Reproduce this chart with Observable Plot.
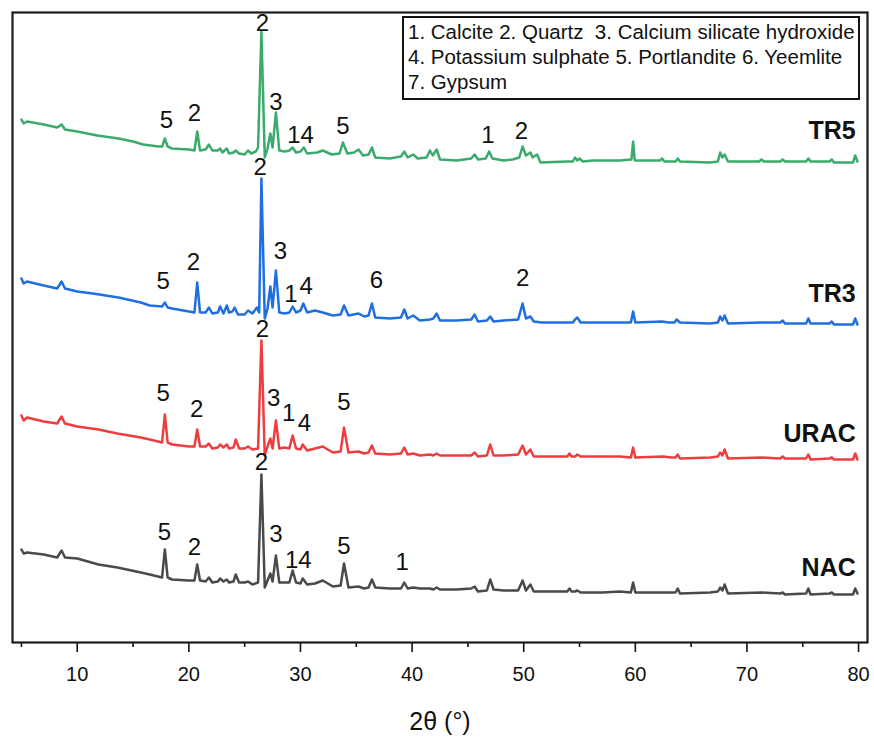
<!DOCTYPE html>
<html>
<head>
<meta charset="utf-8">
<script src="https://cdn.jsdelivr.net/npm/d3@7"></script>
<script src="https://cdn.jsdelivr.net/npm/@observablehq/plot@0.6"></script>
<style>
  html, body { margin: 0; padding: 0; background: #fff; }
  #wrap { position: relative; width: 874px; height: 738px; font-family: Arial, "Liberation Sans", sans-serif; }
  #legend { position: absolute; left: 402px; top: 16px; width: 458px; height: 84px; border: 2.5px solid #111;
            font-size: 20.5px; line-height: 25px; color: #111; padding: 1px 0 0 4px; box-sizing: border-box; background: #fff; white-space: nowrap; }
</style>
</head>
<body>
<div id="wrap">
  <div id="chart"></div>
  <div id="legend"></div>
</div>
<script>
// ---- data (2θ in degrees, intensity in arbitrary units, stacked as drawn) ----
const seriesNames = ["TR5", "TR3", "URAC", "NAC"];
const seriesColors = ["#3aab6c", "#1f6fe0", "#ef3d3f", "#4a4a4a"];

const tr5 = [[5.0,523],[5.2,519],[5.5,521],[7.0,518],[8.2,515],[8.6,518],[8.9,513],[10.0,511],[11.8,507],[13.7,504],[15.0,501],[15.9,498],[17.3,496],[17.6,496],[17.85,504],[18.1,496],[18.5,494],[20.0,493],[20.5,492],[20.75,511],[21.0,492],[21.5,493],[21.8,498],[22.1,492],[22.6,492],[22.8,494],[23.0,490],[23.4,494],[23.6,489],[24.0,490],[24.2,492],[24.5,489],[25.0,488],[25.3,492],[25.6,489],[26.0,491],[26.2,495],[26.5,611],[26.8,485],[27.05,494],[27.3,509],[27.5,495],[27.8,530],[28.1,492],[28.6,491],[29.0,492],[29.3,495],[29.6,490],[30.0,491],[30.3,495],[30.6,489],[31.5,490],[32.0,492],[32.8,488],[33.5,489],[33.8,500],[34.2,489],[34.8,490],[35.2,493],[35.6,487],[36.1,488],[36.4,495],[36.7,485],[38.0,484],[39.0,486],[39.3,491],[39.6,485],[40.1,488],[40.5,484],[41.3,485],[41.6,492],[41.85,487],[42.2,493],[42.5,483],[44.0,482],[45.3,484],[45.6,488],[45.9,483],[46.6,484],[46.9,491],[47.2,484],[48.2,482],[49.0,483],[49.6,485],[49.9,496],[50.2,487],[50.6,490],[50.8,485],[51.2,488],[51.5,480],[53.9,481],[54.4,481],[54.6,485],[54.8,482],[55.0,484],[55.3,481],[56.2,482],[58.6,482],[59.65,483],[59.8,501],[59.95,482],[62.2,482],[62.4,484],[62.6,481],[63.6,481],[63.8,484],[64.0,481],[66.7,480],[67.4,481],[67.6,490],[67.8,485],[68.0,488],[68.3,481],[71.1,481],[71.3,483],[71.5,481],[73.0,481],[73.2,483],[73.4,481],[75.3,481],[75.5,484],[75.7,481],[77.4,481],[77.6,483],[77.8,480],[79.5,480],[79.7,487],[79.9,481]];

const tr3 = [[5.0,364],[5.2,359],[5.5,361],[7.0,357],[8.2,354],[8.6,361],[8.9,354],[10.0,351],[11.4,349],[13.7,345],[15.7,340],[16.5,337],[17.6,336],[17.85,340],[18.1,335],[18.5,334],[20.0,331],[20.5,330],[20.75,360],[21.0,330],[21.5,330],[21.8,335],[22.1,329],[22.6,330],[22.8,336],[23.1,329],[23.4,337],[23.6,330],[23.9,331],[24.1,335],[24.4,328],[25.0,328],[25.3,332],[25.7,329],[26.1,335],[26.3,330],[26.5,464],[26.8,324],[27.05,334],[27.3,356],[27.5,335],[27.8,372],[28.1,330],[28.6,329],[29.0,330],[29.3,336],[29.6,330],[30.0,332],[30.25,339],[30.6,330],[31.3,332],[32.0,330],[32.9,327],[33.6,328],[33.9,337],[34.3,327],[35.2,329],[35.7,326],[36.1,327],[36.4,339],[36.7,325],[38.0,324],[39.0,325],[39.3,333],[39.6,324],[40.1,327],[40.7,322],[41.6,323],[41.9,324],[42.2,329],[42.5,322],[44.0,322],[45.3,323],[45.6,328],[45.9,321],[46.7,322],[47.0,326],[47.3,321],[48.2,322],[49.5,323],[49.9,339],[50.2,324],[50.6,326],[50.9,321],[51.6,320],[53.9,320],[54.4,320],[54.6,323],[54.8,325],[55.1,320],[56.2,320],[58.6,320],[59.6,320],[59.8,331],[60.0,320],[62.4,321],[63.0,320],[63.5,320],[63.7,323],[64.0,320],[66.7,319],[67.4,320],[67.6,326],[67.8,322],[68.0,327],[68.3,319],[71.3,320],[73.0,320],[73.2,322],[73.4,319],[75.3,319],[75.5,324],[75.7,319],[77.4,319],[77.6,321],[77.8,318],[79.5,318],[79.7,324],[79.9,318]];

const urac = [[5.0,227],[5.2,222],[5.5,225],[7.0,221],[8.2,219],[8.6,226],[8.9,219],[10.0,216],[11.9,213],[13.6,209],[15.7,205],[16.5,203],[17.6,200],[17.85,228],[18.1,200],[18.5,198],[20.0,196],[20.5,196],[20.75,213],[21.0,196],[21.5,196],[21.8,199],[22.1,194],[22.6,195],[22.8,198],[23.1,195],[23.4,198],[23.6,194],[24.0,195],[24.2,203],[24.5,194],[25.0,194],[25.3,196],[25.7,193],[26.2,194],[26.5,302],[26.8,187],[27.05,196],[27.3,204],[27.5,194],[27.8,222],[28.1,194],[28.6,195],[29.0,194],[29.3,207],[29.6,194],[30.0,193],[30.2,198],[30.6,192],[31.3,194],[32.0,196],[32.9,190],[33.6,191],[33.9,215],[34.3,190],[35.2,191],[35.7,189],[36.1,190],[36.4,197],[36.7,189],[38.0,188],[39.0,189],[39.3,195],[39.6,188],[40.1,189],[40.7,187],[41.6,188],[41.9,187],[42.2,189],[42.5,187],[44.0,187],[45.3,187],[45.6,190],[45.9,186],[46.7,187],[47.0,198],[47.3,187],[48.2,187],[49.5,188],[49.9,197],[50.2,188],[50.6,193],[50.9,186],[51.6,186],[53.9,186],[54.1,189],[54.3,186],[54.6,186],[54.8,188],[55.1,186],[57.1,186],[58.6,186],[59.6,185],[59.8,195],[60.0,185],[62.5,186],[63.2,185],[63.6,185],[63.8,188],[64.0,184],[66.7,185],[67.4,186],[67.6,190],[67.8,187],[68.0,193],[68.3,184],[71.3,185],[73.0,184],[73.2,186],[73.4,184],[75.3,184],[75.5,188],[75.7,183],[77.4,184],[77.6,185],[77.8,183],[79.5,183],[79.7,189],[79.9,183]];

const nac = [[5.0,93],[5.2,89],[5.5,90],[7.0,88],[8.2,85],[8.6,92],[8.9,85],[10.0,84],[11.9,78],[13.6,75],[15.7,70],[16.5,68],[17.6,65],[17.85,93],[18.1,65],[18.5,63],[20.0,62],[20.5,62],[20.75,78],[21.0,62],[21.5,61],[21.8,65],[22.1,60],[22.6,61],[22.8,64],[23.1,61],[23.4,63],[23.6,60],[24.0,61],[24.2,68],[24.5,60],[25.0,60],[25.3,61],[25.7,58],[26.2,60],[26.5,168],[26.8,55],[27.05,62],[27.3,69],[27.5,61],[27.8,87],[28.1,60],[28.6,60],[29.0,60],[29.3,72],[29.6,60],[30.0,59],[30.2,64],[30.6,58],[31.3,59],[32.0,62],[32.9,56],[33.6,57],[33.9,79],[34.3,55],[35.2,56],[35.7,54],[36.1,55],[36.4,63],[36.7,55],[38.0,54],[39.0,54],[39.3,60],[39.6,54],[40.1,55],[40.7,54],[41.6,54],[41.9,53],[42.2,55],[42.5,53],[44.0,53],[45.3,54],[45.6,56],[45.9,51],[46.7,52],[47.0,63],[47.3,53],[48.2,52],[49.5,52],[49.9,62],[50.2,52],[50.6,58],[50.9,51],[51.6,51],[53.9,51],[54.1,54],[54.3,51],[54.6,51],[54.8,52],[55.1,50],[57.1,50],[58.6,51],[59.6,50],[59.8,60],[60.0,50],[62.5,50],[63.2,50],[63.6,50],[63.8,54],[64.0,49],[66.7,50],[67.4,51],[67.6,55],[67.8,52],[68.0,58],[68.3,49],[71.3,50],[73.0,49],[73.2,50],[73.4,48],[75.3,49],[75.5,54],[75.7,48],[77.4,49],[77.6,50],[77.8,48],[79.5,48],[79.7,54],[79.9,49]];

// phase labels: [2θ, intensity, label]
const tr5Phases = [[26.6,619,"2"],[18.0,522,"5"],[20.5,529,"2"],[27.8,540,"3"],[30.0,507,"14"],[33.8,516,"5"],[46.8,507,"1"],[49.8,511,"2"]];
const tr3Phases = [[26.4,475,"2"],[17.7,361,"5"],[20.4,380,"2"],[28.2,391,"3"],[29.15,348,"1"],[30.5,356,"4"],[36.8,362,"6"],[49.9,364,"2"]];
const uracPhases = [[26.6,313,"2"],[17.7,249,"5"],[20.7,233,"2"],[27.6,244,"3"],[28.95,229,"1"],[30.35,219,"4"],[33.9,240,"5"]];
const nacPhases = [[26.5,180,"2"],[17.8,110,"5"],[20.5,95,"2"],[27.8,108,"3"],[29.8,82,"14"],[33.9,96,"5"],[39.1,80,"1"]];

// sample name labels: [2θ, intensity]
const nameAnchors = [[79.75,512],[79.75,349],[79.75,209],[79.75,75]];

const legendLines = ["1. Calcite 2. Quartz\u00a0 3. Calcium silicate hydroxide", "4. Potassium sulphate 5. Portlandite 6. Yeemlite", "7. Gypsum"];

const majorTicks = [10, 20, 30, 40, 50, 60, 70, 80];
const minorTicks = [5, 15, 25, 35, 45, 55, 65, 75];
const xTitle = "2\u03b8 (\u00b0)";

// ---- build tables ----
const allSeries = [tr5, tr3, urac, nac];
const lineData = allSeries.flatMap((s, i) => s.map(([x, y]) => ({series: seriesNames[i], x, y})));
const phaseData = [tr5Phases, tr3Phases, uracPhases, nacPhases].flatMap(s => s.map(([x, y, t]) => ({x, y, t})));
const nameData = nameAnchors.map(([x, y], i) => ({x, y, t: seriesNames[i]}));

const font = "Arial, 'Liberation Sans', sans-serif";

const chart = Plot.plot({
  width: 874,
  height: 738,
  marginLeft: 12,
  marginRight: 7,
  marginTop: 12,
  marginBottom: 96,
  style: {fontFamily: font, background: "#fff", color: "#111"},
  x: {domain: [4.2, 80.8]},
  y: {domain: [0, 630], axis: null},
  color: {domain: seriesNames, range: seriesColors},
  marks: [
    Plot.line(lineData, {x: "x", y: "y", z: "series", stroke: "series", strokeWidth: 2.5, strokeLinejoin: "round", strokeLinecap: "round"}),
    Plot.text(phaseData, {x: "x", y: "y", text: "t", fontSize: 24, fill: "#111", lineAnchor: "middle"}),
    Plot.text(nameData, {x: "x", y: "y", text: "t", fontSize: 25, fontWeight: "bold", fill: "#111", textAnchor: "end", lineAnchor: "middle"}),
    Plot.axisX(majorTicks, {tickSize: 10, tickPadding: 14, fontSize: 20, strokeWidth: 1.6, stroke: "#111", fill: "#111", label: null}),
    Plot.axisX(minorTicks, {tickSize: 5, text: null, strokeWidth: 1.6, stroke: "#111", label: null}),
    Plot.text([xTitle], {frameAnchor: "bottom", dy: 79, fontSize: 25, fill: "#111", lineAnchor: "middle"}),
    Plot.frame({stroke: "#1a1a1a", strokeWidth: 2.2})
  ]
});
document.getElementById("chart").appendChild(chart);

const legend = document.getElementById("legend");
legendLines.forEach(l => { const d = document.createElement("div"); d.textContent = l; legend.appendChild(d); });
</script>
</body>
</html>
